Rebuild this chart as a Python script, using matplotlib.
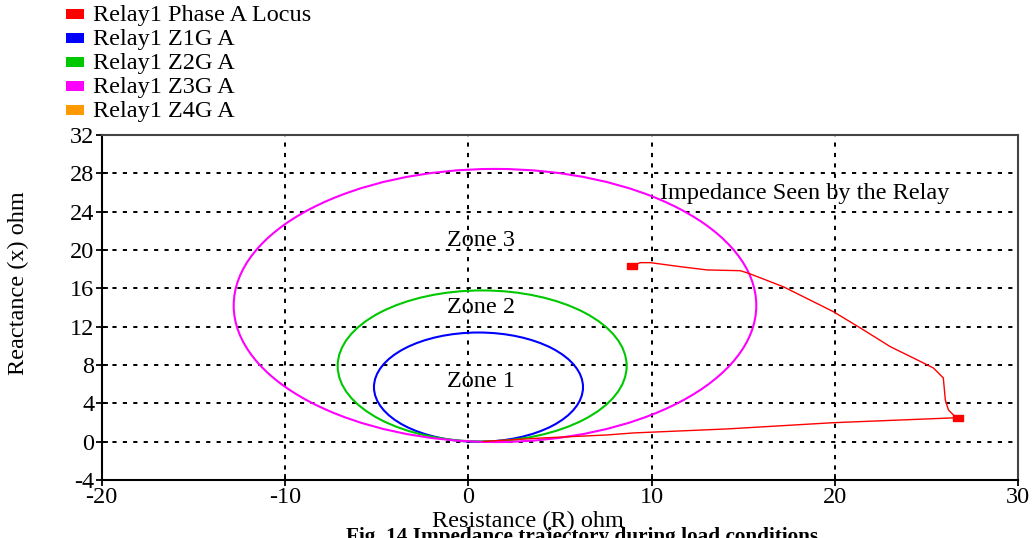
import matplotlib
matplotlib.use('Agg')
import matplotlib.pyplot as plt
from matplotlib.patches import Circle, Rectangle

plt.rcParams['font.family'] = ['Liberation Serif', 'DejaVu Serif']
plt.rcParams['lines.scale_dashes'] = False
plt.rcParams['axes.unicode_minus'] = False

# ---- data ----
locus_r = [8.95, 9.38, 9.93, 11.57, 13.02, 14.84, 15.29, 17.18, 18.82, 19.91, 21.39,
           23.02, 24.28, 25.37, 25.91, 26.02, 26.19, 26.46, 26.73, 26.30, 19.91, 14.13,
           9.00, 7.58, 4.09, 0.82]
locus_x = [18.33, 18.68, 18.68, 18.26, 17.92, 17.84, 17.57, 16.17, 14.61, 13.57, 11.86,
           9.91, 8.73, 7.69, 6.65, 4.35, 3.31, 2.79, 2.50, 2.47, 1.98, 1.33,
           0.91, 0.70, 0.39, 0.02]
marker_idx = [0, 18]

zone_names = ['Zone 1', 'Zone 2', 'Zone 3']
zone_center_r = [0.56, 0.76, 1.46]
zone_center_x = [5.69, 7.90, 14.21]
zone_radius = [5.70, 7.88, 14.25]
zone_colors = ['#0000ff', '#00c800', '#ff00ff']

legend_labels = ['Relay1 Phase A Locus', 'Relay1 Z1G A', 'Relay1 Z2G A',
                 'Relay1 Z3G A', 'Relay1 Z4G A']
legend_colors = ['#ff0000', '#0000ff', '#00c800', '#ff00ff', '#ff9900']

x_ticks = [-20, -10, 0, 10, 20, 30]
y_ticks = [-4, 0, 4, 8, 12, 16, 20, 24, 28, 32]

# ---- figure ----
W, H = 1033, 538
FS = 17.5
fig = plt.figure(figsize=(W / 100, H / 100), dpi=100)
ax = fig.add_axes([101.5 / W, 1 - 480 / H, (1018.3 - 101.5) / W, (480 - 135) / H])
ax.set_xlim(-20, 30)
ax.set_ylim(-4, 32)
ax.set_xticks(x_ticks)
ax.set_yticks(y_ticks)
ax.tick_params(direction='inout', length=8, width=1.3, labelsize=FS, pad=1)
ax.grid(True, color='black', linewidth=1.4, linestyle=(0, (3, 4.5)))
ax.set_axisbelow(True)
for s in ['left', 'bottom']:
    ax.spines[s].set_linewidth(1.5)
    ax.spines[s].set_color('black')
for s in ['top', 'right']:
    ax.spines[s].set_linewidth(1.5)
    ax.spines[s].set_color('#444444')

for cr, cx, rad, col in zip(zone_center_r, zone_center_x, zone_radius, zone_colors):
    ax.add_patch(Circle((cr, cx), rad, fill=False, edgecolor=col, linewidth=1.5, zorder=3))

ax.plot(locus_r, locus_x, color='#ff0000', linewidth=1.0, zorder=4)
rect_marker = [(-1, -0.55), (1, -0.55), (1, 0.55), (-1, 0.55), (-1, -0.55)]
ax.plot([locus_r[i] for i in marker_idx], [locus_x[i] for i in marker_idx],
        linestyle='none', marker=rect_marker, markersize=7, color='#ff0000', zorder=5)

zone_label_x = [0.71, 0.71, 0.71]
zone_label_y = [6.3, 14.0, 21.0]
for name, lx, ly in zip(zone_names, zone_label_x, zone_label_y):
    ax.text(lx, ly, name, fontsize=FS, ha='center', va='center', zorder=6)
ax.text(18.33, 25.9, 'Impedance Seen by the Relay', fontsize=FS, ha='center',
        va='center', zorder=6)

ax.set_xlabel('Resistance (R) ohm', fontsize=FS)
ax.xaxis.label.set_va('center')
ax.xaxis.set_label_coords((528 - 101.5) / 916.8, -(521 - 480) / 345)
ax.set_ylabel('Reactance (x) ohm', fontsize=FS)
ax.yaxis.label.set_va('center')
ax.yaxis.set_label_coords((18 - 101.5) / 916.8, (480 - 283) / 345)

# legend (manual)
for i, (lab, col) in enumerate(zip(legend_labels, legend_colors)):
    yc = 14 + 24 * i
    fig.add_artist(Rectangle((66 / W, 1 - (yc + 5) / H), 18 / W, 10 / H,
                             facecolor=col, edgecolor='none', transform=fig.transFigure))
    fig.text(93 / W, 1 - (yc + 1) / H, lab, fontsize=FS, ha='left', va='center')

fig.text(582 / W, 1 - 527 / H, 'Fig. 14 Impedance trajectory during load conditions',
         fontsize=15.3, fontweight='bold', ha='center', va='top')

fig.savefig('out.png', dpi=100)
